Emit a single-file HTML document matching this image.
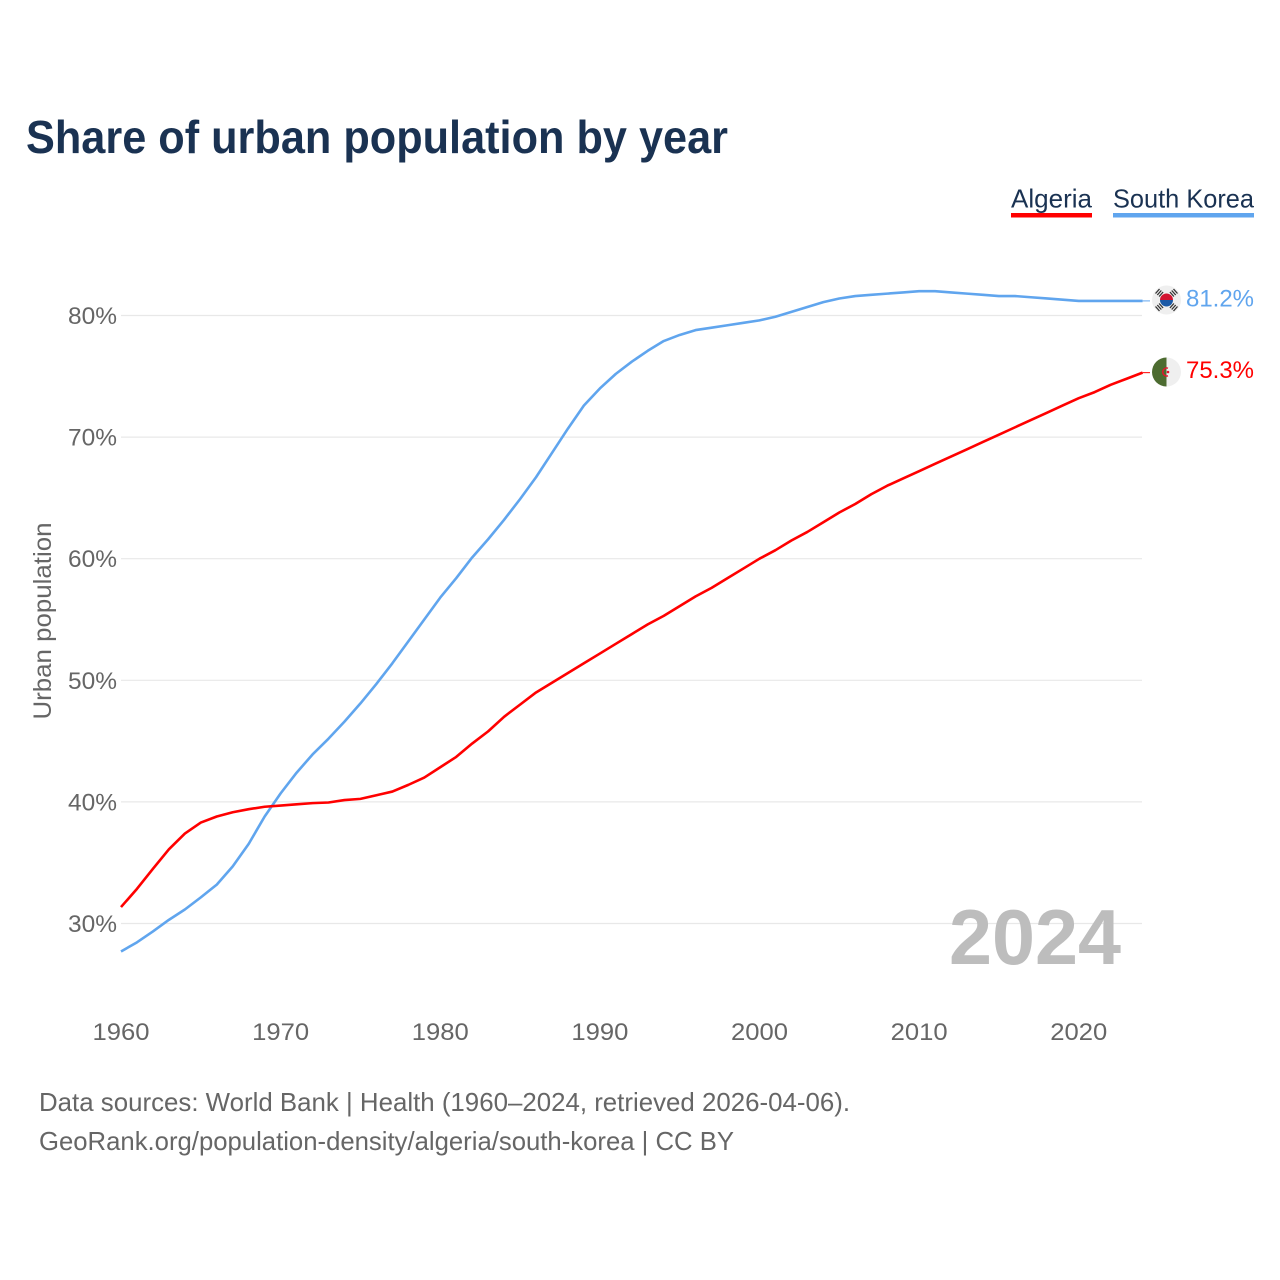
<!DOCTYPE html>
<html lang="en">
<head>
<meta charset="utf-8">
<title>Share of urban population by year</title>
<style>
html,body{margin:0;padding:0;background:#fff;width:1280px;height:1280px;overflow:hidden}
svg{display:block}
text{font-family:"Liberation Sans",sans-serif}
</style>
</head>
<body>
<svg id="chart" xmlns="http://www.w3.org/2000/svg" width="1280" height="1280" viewBox="0 0 1280 1280">
  <rect width="1280" height="1280" fill="#fff"/>
  <text x="26" y="153" font-size="46" font-weight="700" fill="#1a3252" textLength="702" lengthAdjust="spacingAndGlyphs">Share of urban population by year</text>

  <g>
    <g>
      <text x="1011" y="207.5" font-size="26" fill="#1a3252" textLength="81" lengthAdjust="spacingAndGlyphs">Algeria</text>
      <rect x="1011" y="213" width="81" height="4.5" fill="#ff0000"/>
    </g>
    <g>
      <text x="1113" y="207.5" font-size="26" fill="#1a3252" textLength="141" lengthAdjust="spacingAndGlyphs">South Korea</text>
      <rect x="1113" y="213" width="141" height="4.5" fill="#60a5ee"/>
    </g>
  </g>

  <g id="grid"></g>
  <g id="yticks"></g>
  <g id="xticks"></g>
  <text transform="translate(51,621) rotate(-90)" text-anchor="middle" font-size="25" fill="#666" textLength="197" lengthAdjust="spacingAndGlyphs">Urban population</text>

  <text x="949" y="964" font-size="78" font-weight="700" fill="#bdbdbd" textLength="172" lengthAdjust="spacingAndGlyphs">2024</text>

  <g id="series"></g>
  <g id="ends"></g>

  <g>
    <circle cx="1166.5" cy="300" r="14.5" fill="#efefef"/>
    <path d="M1160 300a6.500 6.500 0 0 1 13 0z" fill="#d3132f"/>
    <path d="M1160 300a6.500 6.500 0 0 0 13 0z" fill="#1c5aa6"/>
    <g stroke="#333" stroke-width="1.300" fill="none">
      <path d="M1155.500 293.500l4 -4.500M1157.300 295l4 -4.500M1159.100 296.500l4 -4.500"/>
      <path d="M1177.500 293.500l-4 -4.500M1175.700 295l-4 -4.500M1173.900 296.500l-4 -4.500"/>
      <path d="M1155.500 306.500l4 4.500M1157.300 305l4 4.500M1159.100 303.500l4 4.500"/>
      <path d="M1177.500 306.500l-4 4.500M1175.700 305l-4 4.500M1173.900 303.500l-4 4.500"/>
    </g>
  </g>
  <g>
    <circle cx="1166.5" cy="372" r="14.5" fill="#efefef"/>
    <path d="M1166.5 357.5a14.500 14.500 0 0 0 0 29z" fill="#4c6b30"/>
    <path d="M1168 368.200a4 4 0 1 0 0 7.600" fill="none" stroke="#e8112d" stroke-width="1.400"/>
    <circle cx="1168" cy="372" r="1.300" fill="#e8112d"/>
  </g>

  <g>
    <text x="39" y="1111" font-size="26" fill="#666" textLength="811" lengthAdjust="spacingAndGlyphs">Data sources: World Bank | Health (1960–2024, retrieved 2026-04-06).</text>
    <text x="39" y="1150" font-size="26" fill="#666" textLength="695" lengthAdjust="spacingAndGlyphs">GeoRank.org/population-density/algeria/south-korea | CC BY</text>
  </g>
</svg>
<script>
var firstYear = 1960;
var algeria = [31.35,32.85,34.5,36.1,37.4,38.3,38.8,39.15,39.4,39.6,39.7,39.8,39.9,39.95,40.15,40.25,40.55,40.85,41.4,42.0,42.85,43.7,44.8,45.8,47.0,48.0,49.0,49.8,50.6,51.4,52.2,53.0,53.8,54.6,55.3,56.1,56.9,57.6,58.4,59.2,60.0,60.7,61.5,62.2,63.0,63.8,64.5,65.3,66.0,66.6,67.2,67.8,68.4,69.0,69.6,70.2,70.8,71.4,72.0,72.6,73.2,73.7,74.3,74.8,75.3];
var southKorea = [27.7,28.45,29.35,30.3,31.15,32.15,33.2,34.7,36.55,38.8,40.7,42.4,43.9,45.2,46.6,48.1,49.7,51.4,53.2,55.0,56.8,58.4,60.1,61.6,63.2,64.9,66.7,68.7,70.7,72.6,74.0,75.2,76.2,77.1,77.9,78.4,78.8,79.0,79.2,79.4,79.6,79.9,80.3,80.7,81.1,81.4,81.6,81.7,81.8,81.9,82.0,82.0,81.9,81.8,81.7,81.6,81.6,81.5,81.4,81.3,81.2,81.2,81.2,81.2,81.2];
var yTickValues = [30,40,50,60,70,80];
var xTickValues = [1960,1970,1980,1990,2000,2010,2020];
var endLabels = ["81.2%","75.3%"];

var NS = "http://www.w3.org/2000/svg";
function xScale(year){ return 121 + (year - 1960) * 15.962; }
function yScale(v){ return 315.5 + (80 - v) * 12.16; }
function make(tag, attrs, parent){
  var el = document.createElementNS(NS, tag);
  for (var k in attrs) el.setAttribute(k, attrs[k]);
  parent.appendChild(el);
  return el;
}

var gridG = document.getElementById("grid");
var yG = document.getElementById("yticks");
yTickValues.forEach(function(v){
  var line = make("line", {x1:121, x2:1142, y1:yScale(v), y2:yScale(v), stroke:"#e8e8e8", "stroke-width":1.2}, gridG);
  
  
  var t = make("text", {x:117, y:yScale(v) + 8.5, "text-anchor":"end", "font-size":24.5, fill:"#666", textLength:49, lengthAdjust:"spacingAndGlyphs"}, yG);
  t.textContent = v + "%";
  
  
});

var xG = document.getElementById("xticks");
xTickValues.forEach(function(y){
  var t = make("text", {x:xScale(y), y:1040, "text-anchor":"middle", "font-size":24.5, fill:"#666", textLength:57, lengthAdjust:"spacingAndGlyphs"}, xG);
  t.textContent = y;
  
  
});

function pathFor(values){
  return values.map(function(v, i){
    return (i ? "L" : "M") + xScale(firstYear + i).toFixed(2) + " " + yScale(v).toFixed(2);
  }).join("");
}
var seriesG = document.getElementById("series");
var blueLine = make("path", {d:pathFor(southKorea), fill:"none", stroke:"#60a5ee", "stroke-width":2.6, "stroke-linejoin":"round"}, seriesG);


var redLine = make("path", {d:pathFor(algeria), fill:"none", stroke:"#ff0000", "stroke-width":2.6, "stroke-linejoin":"round"}, seriesG);



var endsG = document.getElementById("ends");
var lastBlue = southKorea[southKorea.length - 1];
var lastRed = algeria[algeria.length - 1];
var leadBlue = make("line", {x1:xScale(2024), x2:1150, y1:yScale(lastBlue), y2:yScale(lastBlue), stroke:"#60a5ee", "stroke-width":1}, endsG);


var leadRed = make("line", {x1:xScale(2024), x2:1150, y1:yScale(lastRed), y2:yScale(lastRed), stroke:"#ff0000", "stroke-width":1}, endsG);


var valBlue = make("text", {x:1186, y:yScale(lastBlue) + 5.5, "font-size":24.5, fill:"#60a5ee", textLength:68, lengthAdjust:"spacingAndGlyphs"}, endsG);
valBlue.textContent = endLabels[0];


var valRed = make("text", {x:1186, y:yScale(lastRed) + 5.5, "font-size":24.5, fill:"#ff0000", textLength:68, lengthAdjust:"spacingAndGlyphs"}, endsG);
valRed.textContent = endLabels[1];


</script>
</body>
</html>
